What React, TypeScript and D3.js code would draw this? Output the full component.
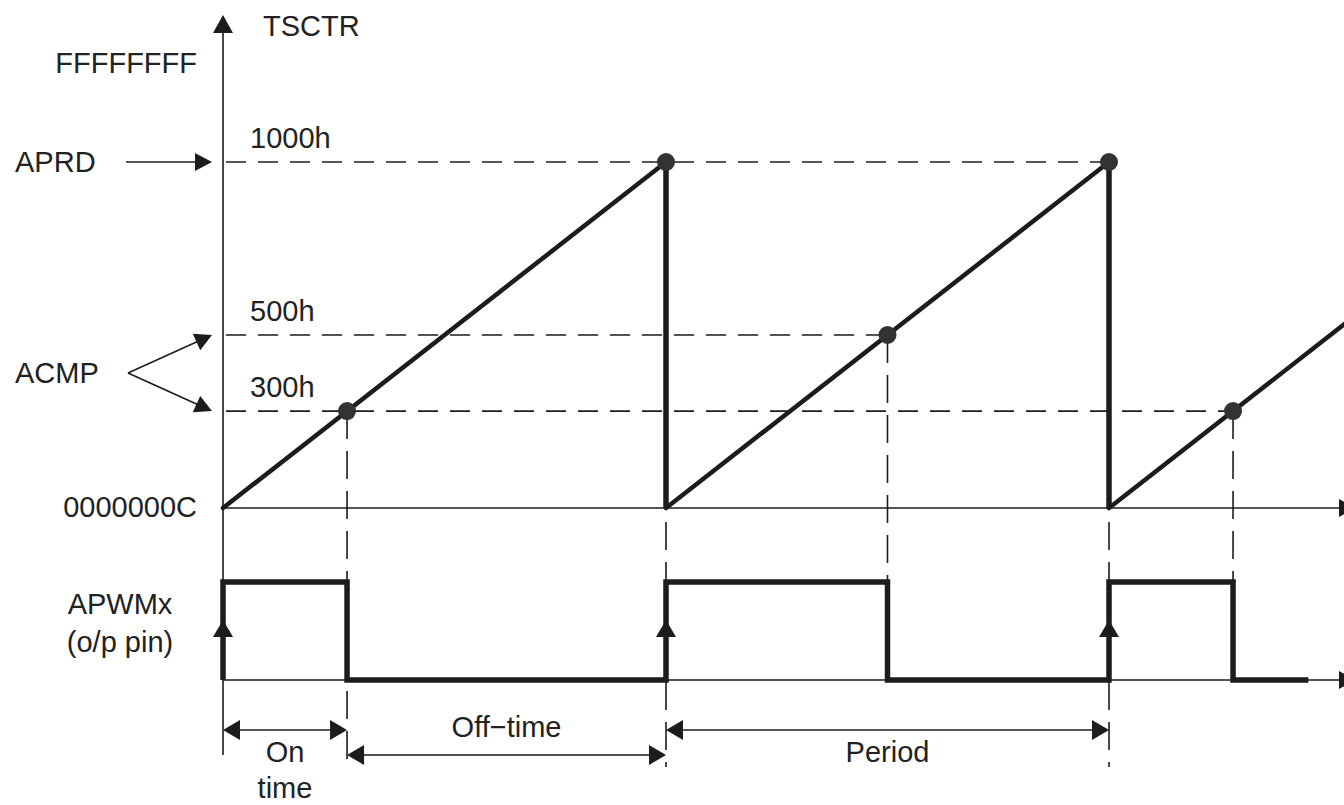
import React, { useEffect } from 'react';
import * as d3 from 'd3';

// counter levels, drawn as fractions of the period value (schematic, not to scale)
const levelLabels = ['0000000C', '300h', '500h', '1000h', 'FFFFFFFF'];
const levelValues = [0, 0.28, 0.5, 1, 1.283];

// registers pointing at levels
const registerNames = ['APRD', 'ACMP'];
const registerTargets = [['1000h'], ['500h', '300h']];

// PWM cycles, time measured in periods
const cycleStarts = [0, 1, 2];
const cycleCompare = ['300h', '500h', '300h'];
const timeEnd = 2.56;
const pwmEnd = 2.45;

// timing spans under the waveform
const spanLabels = [['On', 'time'], ['Off−time'], ['Period']];
const spanFrom = [0, 0.28, 1];
const spanTo = [0.28, 1, 2];
const spanRow = [0, 1, 0];

const INK = '#1c1c1c';
const TEXT = '#222';
const FONT = '"Liberation Sans", Arial, sans-serif';

const level = (name: string) => levelValues[levelLabels.indexOf(name)];

// triangle with tip at (x, y) pointing in direction angle (radians)
const head = (x: number, y: number, angle: number, len = 17, half = 9) => {
  const bx = x - Math.cos(angle) * len;
  const by = y - Math.sin(angle) * len;
  const px = -Math.sin(angle) * half;
  const py = Math.cos(angle) * half;
  return `${x},${y} ${bx + px},${by + py} ${bx - px},${by - py}`;
};

const App = () => {
  useEffect(() => {
    document.body.style.margin = '0';
    document.body.style.overflow = 'hidden';
  }, []);

  const width = 1344;
  const height = 805;

  const x = d3.scaleLinear().domain([0, 2]).range([223, 1109]);
  const y = d3.scaleLinear().domain([0, 1]).range([508, 162]);
  const pwmY = d3.scaleLinear().domain([0, 1]).range([680, 582]);
  const rowY = d3.scaleOrdinal<number, number>().domain([0, 1]).range([730, 755]);

  const x0 = x(0);
  const axisRight = width + 12;

  // dots: compare matches and period matches
  const dots = [
    ...cycleStarts.map((s, i) => ({ t: s + level(cycleCompare[i]), v: level(cycleCompare[i]) })),
    ...cycleStarts.filter(s => s + 1 <= timeEnd).map(s => ({ t: s + 1, v: 1 })),
  ];

  const boundaries = [...spanFrom, ...spanTo];
  const isBoundary = (t: number) => boundaries.some(b => Math.abs(b - t) < 1e-6);

  // ramp
  const rampLine = d3.line<[number, number]>().x(d => x(d[0])).y(d => y(d[1]));
  const rampSegs = cycleStarts.map(s => {
    const e = Math.min(s + 1, timeEnd);
    return rampLine([[s, 0], [e, e - s]]);
  });
  const drops = cycleStarts.filter(s => s + 1 <= timeEnd).map(s => s + 1);

  // pwm
  const pwmPts: [number, number][] = [[0, 0]];
  cycleStarts.forEach((s, i) => {
    pwmPts.push([s, 1], [s + level(cycleCompare[i]), 0]);
  });
  pwmPts.push([pwmEnd, 0]);
  const pwmLine = d3.line<[number, number]>().x(d => x(d[0])).y(d => pwmY(d[1])).curve(d3.curveStepAfter);

  const dashLevels = ['300h', '500h', '1000h'];

  const textStyle = { fontFamily: FONT, fontSize: 29, fill: TEXT };

  // register arrows
  const regX0 = 126;
  const regTip = x0 - 11;

  return (
    <svg width={width} height={height} style={{ position: 'absolute', left: 0, top: 0, display: 'block', background: '#fff' }}>
      {/* horizontal dashed level lines */}
      {dashLevels.map(name => {
        const v = level(name);
        const tMax = d3.max(dots.filter(d => d.v === v), d => d.t) ?? 0;
        return (
          <line key={name} x1={x0 + 3} x2={x(tMax)} y1={y(v)} y2={y(v)}
            stroke={INK} strokeWidth={1.6} strokeDasharray="20,12" />
        );
      })}

      {/* vertical dashed lines from matches */}
      {dots.map((d, i) => (
        <line key={'v' + i} x1={x(d.t)} x2={x(d.t)} y1={y(d.v)} y2={isBoundary(d.t) ? 767 : pwmY(0)}
          stroke={INK} strokeWidth={1.6} strokeDasharray="28,12" />
      ))}

      {/* axes */}
      <line x1={x0} x2={x0} y1={30} y2={755} stroke={INK} strokeWidth={1.6} />
      <polygon points={head(x0, 15, -Math.PI / 2, 18, 10)} fill={INK} />
      <line x1={x0} x2={axisRight - 15} y1={y(0)} y2={y(0)} stroke={INK} strokeWidth={1.6} />
      <polygon points={head(axisRight, y(0), 0, 17, 9)} fill={INK} />
      <line x1={x0} x2={axisRight - 15} y1={pwmY(0)} y2={pwmY(0)} stroke={INK} strokeWidth={1.6} />
      <polygon points={head(axisRight, pwmY(0), 0, 17, 9)} fill={INK} />

      {/* counter ramp */}
      {rampSegs.map((d, i) => (
        <path key={'r' + i} d={d ?? ''} fill="none" stroke={INK} strokeWidth={4.5} strokeLinecap="round" />
      ))}
      {drops.map(t => (
        <line key={'d' + t} x1={x(t)} x2={x(t)} y1={y(1)} y2={y(0)} stroke={INK} strokeWidth={5.5} />
      ))}

      {/* PWM output */}
      <path d={pwmLine(pwmPts) ?? ''} fill="none" stroke={INK} strokeWidth={5.5} strokeLinejoin="miter" strokeLinecap="butt" />
      {cycleStarts.map(s => (
        <polygon key={'a' + s} points={head(x(s), 620, -Math.PI / 2, 17, 10)} fill={INK} />
      ))}

      {/* match dots */}
      {dots.map((d, i) => (
        <circle key={'c' + i} cx={x(d.t)} cy={y(d.v)} r={9} fill="#333" />
      ))}

      {/* labels */}
      <text x={263} y={36} style={textStyle}>TSCTR</text>
      {['FFFFFFFF', '0000000C'].map(name => (
        <text key={name} x={197} y={y(level(name)) + 9} textAnchor="end" style={textStyle}>{name}</text>
      ))}
      {dashLevels.map(name => (
        <text key={'l' + name} x={250} y={y(level(name)) - 14} style={textStyle}>{name}</text>
      ))}

      {registerNames.map((reg, i) => {
        const ys = registerTargets[i].map(n => y(level(n)));
        const ay = d3.mean(ys) ?? 0;
        return (
          <g key={reg}>
            <text x={15} y={ay + 10} style={textStyle}>{reg}</text>
            {ys.map((ty, j) => {
              const sx = ys.length > 1 ? regX0 + 2 : regX0;
              const ang = Math.atan2(ty - ay, regTip - sx);
              const bx = regTip - Math.cos(ang) * 14;
              const by = ty - Math.sin(ang) * 14;
              return (
                <g key={j}>
                  <line x1={sx} y1={ay} x2={bx} y2={by} stroke={INK} strokeWidth={1.6} />
                  <polygon points={head(regTip, ty, ang, 17, 9)} fill={INK} />
                </g>
              );
            })}
          </g>
        );
      })}

      <text x={120} y={614} textAnchor="middle" style={textStyle}>APWMx</text>
      <text x={120} y={652} textAnchor="middle" style={textStyle}>(o/p pin)</text>

      {/* timing spans */}
      {spanLabels.map((lines, i) => {
        const a = x(spanFrom[i]);
        const b = x(spanTo[i]);
        const ry = rowY(spanRow[i]);
        const cx = (a + b) / 2;
        const above = spanRow[i] === 1;
        return (
          <g key={'s' + i}>
            <line x1={a + 14} x2={b - 14} y1={ry} y2={ry} stroke={INK} strokeWidth={1.6} />
            <polygon points={head(a, ry, Math.PI, 17, 10)} fill={INK} />
            <polygon points={head(b, ry, 0, 17, 10)} fill={INK} />
            {lines.map((s, k) => (
              <text key={k} x={cx} y={above ? ry - 18 : ry + 32 + k * 36} textAnchor="middle" style={textStyle}>{s}</text>
            ))}
          </g>
        );
      })}
    </svg>
  );
};

export default App;
